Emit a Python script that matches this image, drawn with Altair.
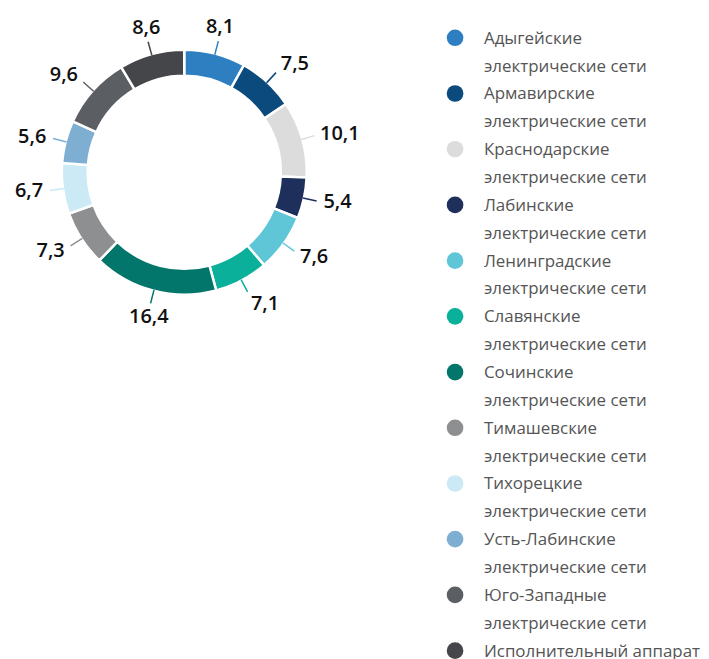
import altair as alt
import pandas as pd

categories = [
    "Адыгейские электрические сети",
    "Армавирские электрические сети",
    "Краснодарские электрические сети",
    "Лабинские электрические сети",
    "Ленинградские электрические сети",
    "Славянские электрические сети",
    "Сочинские электрические сети",
    "Тимашевские электрические сети",
    "Тихорецкие электрические сети",
    "Усть-Лабинские электрические сети",
    "Юго-Западные электрические сети",
    "Исполнительный аппарат",
]
values = [8.1, 7.5, 10.1, 5.4, 7.6, 7.1, 16.4, 7.3, 6.7, 5.6, 9.6, 8.6]
value_labels = ["8,1", "7,5", "10,1", "5,4", "7,6", "7,1", "16,4", "7,3", "6,7", "5,6", "9,6", "8,6"]
colors = ["#2E7FC1", "#0B4A7D", "#DCDCDC", "#1E2F5C", "#5EC6D6", "#0BB09A",
          "#02766A", "#8E8F91", "#CBEAF6", "#7FAED3", "#5B5F63", "#454649"]

df = pd.DataFrame({
    "cat": categories,
    "value": values,
    "label": value_labels,
    "idx": list(range(len(categories))),
})

CX, CY = 177, 163.5
R_OUT, R_IN = 123, 97

color_scale = alt.Scale(domain=categories, range=colors)

base = alt.Chart(df)

angled = base.transform_window(
    cum="sum(value)", sort=[alt.SortField("idx")]
).transform_joinaggregate(
    total="sum(value)"
).transform_calculate(
    ang="(datum.cum - datum.value/2)/datum.total*2*PI",
)

arcs = base.mark_arc(outerRadius=R_OUT, innerRadius=R_IN, stroke="white", strokeWidth=2.5).encode(
    theta=alt.Theta("value:Q", stack=True),
    order=alt.Order("idx:Q"),
    color=alt.Color("cat:N", scale=color_scale, legend=None),
    x=alt.value(CX),
    y=alt.value(CY),
)

ticks = angled.transform_calculate(
    x1=f"{CX} + {R_OUT-1}*sin(datum.ang)",
    y1=f"{CY} - {R_OUT-1}*cos(datum.ang)",
    x2=f"{CX} + 136*sin(datum.ang)",
    y2=f"{CY} - 136*cos(datum.ang)",
).mark_rule(strokeWidth=1.5).encode(
    x=alt.X("x1:Q", scale=None, axis=None),
    y=alt.Y("y1:Q", scale=None, axis=None),
    x2="x2:Q",
    y2="y2:Q",
    color=alt.Color("cat:N", scale=color_scale, legend=None),
)

labels = angled.transform_calculate(
    hw="4.4*length(datum.label) + 1",
    s="sin(datum.ang)",
    c="cos(datum.ang)",
).transform_calculate(
    lx=f"{CX} + 143*datum.s + (abs(datum.s) > 0.4 ? (datum.s > 0 ? datum.hw : -datum.hw) : 0)",
    ly=f"{CY} - 143*datum.c - 8*datum.c*datum.c*datum.c",
).mark_text(
    font="Open Sans", fontSize=20, fontWeight=600, color="#111111",
    align="center", baseline="middle",
).encode(
    x=alt.X("lx:Q", scale=None, axis=None),
    y=alt.Y("ly:Q", scale=None, axis=None),
    text="label:N",
)

leg_scale = alt.Scale(type="point", domain=categories, range=[28.5, 644], padding=0)

leg_points = base.mark_point(filled=True, size=280, opacity=1, shape="circle").encode(
    x=alt.value(449),
    y=alt.Y("cat:N", scale=leg_scale, axis=None),
    color=alt.Color("cat:N", scale=color_scale, legend=None),
)

leg_text = base.transform_calculate(
    legtxt="replace(datum.cat, ' электрические сети', '\\nэлектрические сети')"
).mark_text(
    align="left", baseline="alphabetic", dy=6, font="Open Sans", fontSize=17,
    color="#555555", lineBreak="\n", lineHeight=28,
).encode(
    x=alt.value(478),
    y=alt.Y("cat:N", scale=leg_scale, axis=None),
    text="legtxt:N",
)

chart = alt.layer(arcs, ticks, labels, leg_points, leg_text).resolve_scale(
    x="independent", y="independent"
).properties(
    width=693, height=643, padding=0,
).configure_view(stroke=None)

chart.save("out.html", embed_options={"renderer": "svg", "actions": False})
